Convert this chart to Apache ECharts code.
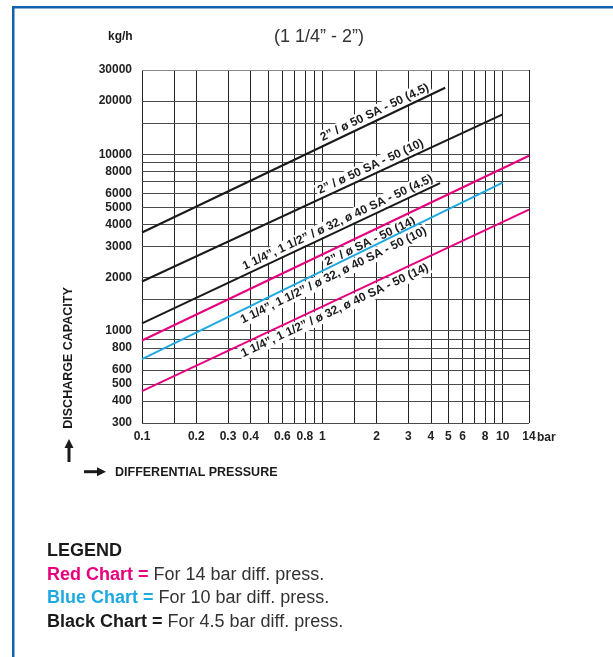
<!DOCTYPE html>
<html><head><meta charset="utf-8">
<script src="https://cdn.jsdelivr.net/npm/echarts@6/dist/echarts.min.js"></script>
<style>html,body{margin:0;padding:0;background:#fff}#c{width:613px;height:657px}</style>
</head><body><div id="c"></div>
<script>
// ---- data ----
const xGridValues = [0.1, 0.15, 0.2, 0.3, 0.4, 0.5, 0.6, 0.7, 0.8, 0.9, 1, 1.5, 2, 3, 4, 5, 6, 7, 8, 9, 10, 14];
const xTickLabels = [0.1, 0.2, 0.3, 0.4, 0.6, 0.8, 1, 2, 3, 4, 5, 6, 8, 10, 14];
const yGridValues = [300, 400, 500, 600, 700, 800, 900, 1000, 1500, 2000, 3000, 4000, 5000, 6000, 7000, 8000, 9000, 10000, 15000, 20000, 30000];
const yTickLabels = [300, 400, 500, 600, 800, 1000, 2000, 3000, 4000, 5000, 6000, 8000, 10000, 20000, 30000];

const line50_45 = [[0.1, 3600], [4.8, 23800]];
const line50_10 = [[0.1, 1900], [10, 16800]];
const line32_45 = [[0.1, 1100], [4.5, 6850]];
const line50_14 = [[0.1, 880], [14, 9800]];
const line32_10 = [[0.1, 690], [10, 6900]];
const line32_14 = [[0.1, 455], [14, 4850]];

const lineLabels = [
  '2\u201d / \u00f8 50 SA - 50 (4.5)',
  '2\u201d / \u00f8 50 SA - 50 (10)',
  '1 1/4\u201d, 1 1/2\u201d / \u00f8 32, \u00f8 40 SA - 50 (4.5)',
  '2\u201d / \u00f8 SA - 50 (14)',
  '1 1/4\u201d, 1 1/2\u201d / \u00f8 32, \u00f8 40 SA - 50 (10)',
  '1 1/4\u201d, 1 1/2\u201d / \u00f8 32, \u00f8 40 SA - 50 (14)'
];

// ---- styles ----
const BLACK = '#1a1a1a', RED = '#e6007e', BLUE = '#1ea9e1';
const FONT = '"Liberation Sans", Arial, sans-serif';

const lineDefs = [
  { data: line50_45, color: BLACK, pos: 'insideEndTop', dist: [13, 1] },
  { data: line50_10, color: BLACK, pos: 'insideEndTop', dist: [82, 1] },
  { data: line32_45, color: BLACK, pos: 'insideEndTop', dist: [3, 1] },
  { data: line50_14, color: RED, pos: 'insideEndBottom', dist: [129, 2] },
  { data: line32_10, color: BLUE, pos: 'insideEndBottom', dist: [88, 2] },
  { data: line32_14, color: RED, pos: 'insideEndBottom', dist: [114, 2] }
];

const chart = echarts.init(document.getElementById('c'), null, { renderer: 'canvas' });

const series = [];
series.push({
  type: 'line', data: [], silent: true,
  markLine: {
    silent: true, z: 1, symbol: ['none', 'none'], animation: false,
    lineStyle: { color: '#222', width: 1, type: 'solid' },
    label: { show: true, position: 'start', distance: 8, color: '#222', fontFamily: FONT, fontWeight: 'bold', fontSize: 12,
      formatter: p => String(p.value) },
    emphasis: { disabled: true },
    data: xGridValues.map(v => ({ xAxis: v, label: { show: xTickLabels.indexOf(v) >= 0 } }))
  }
});
series.push({
  type: 'line', data: [], silent: true,
  markLine: {
    silent: true, z: 1, symbol: ['none', 'none'], animation: false,
    lineStyle: { color: '#4a4a4a', width: 1, type: 'solid' },
    label: { show: true, position: 'start', distance: 10, color: '#222', fontFamily: FONT, fontWeight: 'bold', fontSize: 12,
      formatter: p => String(p.value) },
    emphasis: { disabled: true },
    data: yGridValues.map(v => ({ yAxis: v, lineStyle: v === 30000 ? { color: '#888' } : undefined, label: { show: yTickLabels.indexOf(v) >= 0 } }))
  }
});

lineDefs.forEach((d, i) => {
  series.push({
    type: 'line', data: d.data, symbol: 'none', silent: true, z: 6,
    lineStyle: { color: d.color, width: 2 },
    markLine: {
      silent: true, z: 5, symbol: ['none', 'none'], animation: false,
      lineStyle: { color: 'rgba(0,0,0,0)', width: 1 },
      emphasis: { disabled: true },
      label: {
        show: true, position: d.pos, distance: d.dist, formatter: () => lineLabels[i],
        color: '#1a1a1a', fontFamily: FONT, fontWeight: 'bold', fontSize: 12,
        backgroundColor: '#fff', padding: [1, 2, 1, 2]
      },
      data: [[{ coord: d.data[0] }, { coord: d.data[1] }]]
    }
  });
});

chart.setOption({
  animation: false,
  backgroundColor: '#fff',
  grid: { left: 142, right: 84, top: 70, bottom: 234, containLabel: false },
  xAxis: { type: 'log', logBase: 10, min: 0.1, max: 14,
    axisLine: { show: false }, axisTick: { show: false }, axisLabel: { show: false }, splitLine: { show: false } },
  yAxis: { type: 'log', logBase: 10, min: 300, max: 30000,
    axisLine: { show: false }, axisTick: { show: false }, axisLabel: { show: false }, splitLine: { show: false } },
  series: series,
  graphic: [
    { type: 'rect', shape: { x: 12, y: 6, width: 601, height: 2.5 }, style: { fill: '#1360ad' }, silent: true },
    { type: 'rect', shape: { x: 12, y: 6, width: 2.5, height: 651 }, style: { fill: '#1360ad' }, silent: true },
    { type: 'text', x: 108, y: 37, style: { text: 'kg/h', font: 'bold 12px ' + FONT, fill: '#1a1a1a', verticalAlign: 'middle' } },
    { type: 'text', x: 274, y: 37, style: { text: '(1 1/4\u201d - 2\u201d)', font: '18px ' + FONT, fill: '#333', verticalAlign: 'middle' } },
    { type: 'text', x: 537, y: 438, style: { text: 'bar', font: 'bold 12px ' + FONT, fill: '#222', verticalAlign: 'middle' } },
    { type: 'text', x: 69, y: 358, rotation: Math.PI / 2,
      style: { text: 'DISCHARGE CAPACITY', font: 'bold 12.5px ' + FONT, fill: '#1a1a1a', align: 'center', verticalAlign: 'middle' } },
    { type: 'rect', shape: { x: 67.5, y: 446, width: 3, height: 16 }, style: { fill: '#1a1a1a' } },
    { type: 'polygon', shape: { points: [[69, 439], [64.5, 448], [73.5, 448]] }, style: { fill: '#1a1a1a' } },
    { type: 'rect', shape: { x: 84, y: 470.2, width: 15, height: 3 }, style: { fill: '#1a1a1a' } },
    { type: 'polygon', shape: { points: [[106, 471.7], [97, 467.2], [97, 476.2]] }, style: { fill: '#1a1a1a' } },
    { type: 'text', x: 115, y: 473, style: { text: 'DIFFERENTIAL PRESSURE', font: 'bold 12.5px ' + FONT, fill: '#1a1a1a', verticalAlign: 'middle' } },
    { type: 'text', x: 47, y: 551, style: { text: 'LEGEND', font: 'bold 18px ' + FONT, fill: '#1a1a1a', verticalAlign: 'middle' } },
    { type: 'text', x: 47, y: 575, style: { text: '{b|Red Chart =}{s| }{n|For 14 bar diff. press.}', verticalAlign: 'middle',
      rich: { b: { fontFamily: FONT, fontWeight: 'bold', fontSize: 18, fill: RED }, s: { fontSize: 18, width: 5 }, n: { fontFamily: FONT, fontSize: 18, fill: '#333' } } } },
    { type: 'text', x: 47, y: 598.5, style: { text: '{b|Blue Chart =}{s| }{n|For 10 bar diff. press.}', verticalAlign: 'middle',
      rich: { b: { fontFamily: FONT, fontWeight: 'bold', fontSize: 18, fill: BLUE }, s: { fontSize: 18, width: 5 }, n: { fontFamily: FONT, fontSize: 18, fill: '#333' } } } },
    { type: 'text', x: 47, y: 622, style: { text: '{b|Black Chart =}{s| }{n|For 4.5 bar diff. press.}', verticalAlign: 'middle',
      rich: { b: { fontFamily: FONT, fontWeight: 'bold', fontSize: 18, fill: '#1a1a1a' }, s: { fontSize: 18, width: 5 }, n: { fontFamily: FONT, fontSize: 18, fill: '#333' } } } }
  ]
});
</script>
</body></html>
